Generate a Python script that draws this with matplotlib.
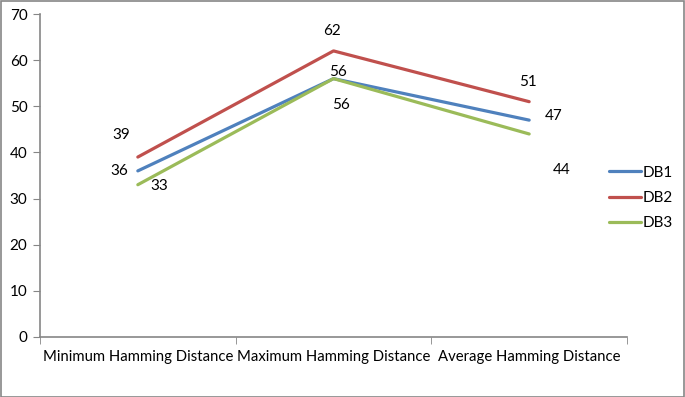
import matplotlib.pyplot as plt
from matplotlib.patches import Rectangle

categories = ["Minimum Hamming Distance", "Maximum Hamming Distance", "Average Hamming Distance"]
db1 = [36, 56, 47]
db2 = [39, 62, 51]
db3 = [33, 56, 44]

# label offsets in pixels, one per point
off1 = [(-19, 0), (4, 7), (24, 4)]
off2 = [(-17, 22), (-1, 20), (-1, 20)]
off3 = [(21, -1), (7, -26), (32, -36)]

plt.rcParams['font.family'] = ['Lato', 'DejaVu Sans']

fig = plt.figure(figsize=(6.85, 3.97), dpi=100)
ax = fig.add_axes([40 / 685, 1 - 337 / 397, (627 - 40) / 685, (337 - 14) / 397])

series = [("DB1", db1, "#4F81BD", off1), ("DB2", db2, "#C0504D", off2), ("DB3", db3, "#9BBB59", off3)]
x = range(len(categories))
for name, vals, col, offs in series:
    ax.plot(x, vals, color=col, lw=2.3, label=name, solid_capstyle='round')
    for i, v in enumerate(vals):
        ax.annotate(str(v), (i, v), xytext=offs[i], textcoords='offset pixels',
                    ha='center', va='center', fontsize=11, color='black')

ax.set_xlim(-0.5, 2.5)
ax.set_ylim(0, 70)
ax.set_yticks(range(0, 71, 10))
ax.set_xticks(list(x))
ax.set_xticklabels(categories, fontsize=10.7)
ax.set_xticks([-0.5, 0.5, 1.5, 2.5], minor=True)
ax.tick_params(axis='x', which='major', length=0, pad=9)
ax.tick_params(axis='x', which='minor', length=5, color='#868686', direction='out')
ax.tick_params(axis='y', length=5, color='#868686', labelsize=11, pad=4)
for s in ['top', 'right']:
    ax.spines[s].set_visible(False)
for s in ['left', 'bottom']:
    ax.spines[s].set_color('#868686')
    ax.spines[s].set_linewidth(1.2)

ax.legend(loc='center left', bbox_to_anchor=(609 / 685, 1 - 198 / 397),
          bbox_transform=fig.transFigure, frameon=False, fontsize=11,
          borderaxespad=0, borderpad=0,
          handlelength=2.1, handletextpad=0.1, labelspacing=0.75)

fig.patches.append(Rectangle((0.001, 0.001), 0.998, 0.997, transform=fig.transFigure,
                             fill=False, edgecolor='#868686', lw=1.2))

fig.savefig("out.png", dpi=100)
